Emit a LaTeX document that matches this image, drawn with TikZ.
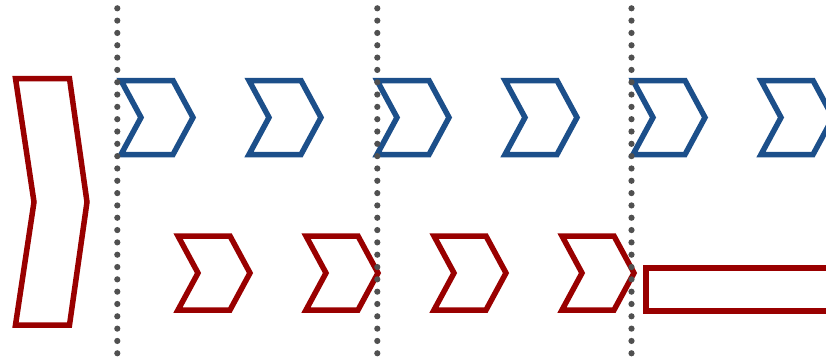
\documentclass[tikz,border=0pt]{standalone}
\definecolor{chevred}{RGB}{153,0,0}
\definecolor{chevblue}{RGB}{28,79,138}
\definecolor{dotgray}{RGB}{80,80,80}
\tikzset{
  redshape/.style={draw=chevred, line width=5.5pt},
  blueshape/.style={draw=chevblue, line width=5.5pt},
  sepline/.style={draw=dotgray, line width=6.2pt, line cap=round, dash pattern=on 0pt off 12.32pt}
}
\begin{document}
\begin{tikzpicture}[x=1pt,y=-1pt]
\useasboundingbox (0,0) rectangle (826,357);
\clip (0,0) rectangle (826,357);
% big red chevron
\draw[redshape] (15.5,78.5) -- (69.5,78.5) -- (87,202) -- (69.5,325) -- (15.5,325) -- (34,202) -- cycle;
% blue chevrons
\foreach \i in {0,...,5}{
  \begin{scope}[xshift=128*\i]
    \draw[blueshape] (121,80.5) -- (173,80.5) -- (193,117.5) -- (173,154.5) -- (121,154.5) -- (141,117.5) -- cycle;
  \end{scope}
}
% small red chevrons
\foreach \i in {0,...,3}{
  \begin{scope}[xshift=128*\i]
    \draw[redshape] (178,236) -- (230,236) -- (250,273) -- (230,310) -- (178,310) -- (198,273) -- cycle;
  \end{scope}
}
% red bar
\draw[redshape] (646,268) rectangle (840,311);
% dotted separators
\coordinate (s1t) at (117.3,8.3); \coordinate (s1b) at (117.3,354);
\coordinate (s2t) at (377.3,8.3); \coordinate (s2b) at (377.3,354);
\coordinate (s3t) at (631.5,8.3); \coordinate (s3b) at (631.5,354);
\draw[sepline] (s1t) -- (s1b);
\draw[sepline] (s2t) -- (s2b);
\draw[sepline] (s3t) -- (s3b);
\end{tikzpicture}
\end{document}
